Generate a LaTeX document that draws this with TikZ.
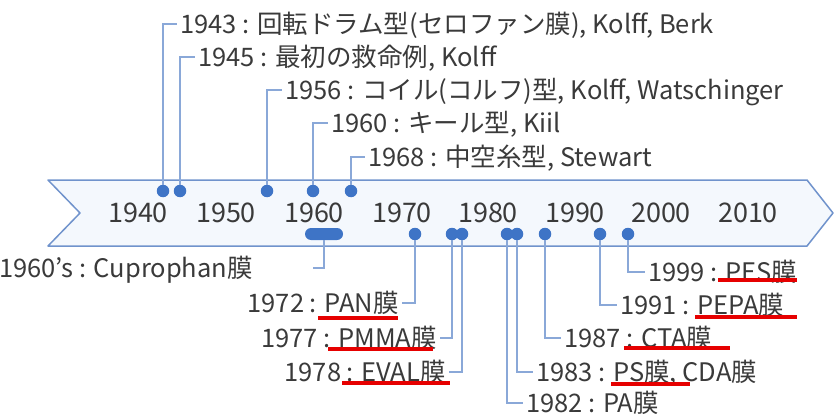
\documentclass[tikz,border=0pt]{standalone}
\usepackage{fontspec}
\setmainfont{Noto Sans CJK JP}
\definecolor{bandline}{HTML}{7093CC}
\definecolor{bandfill}{HTML}{F4F8FD}
\definecolor{dotblue}{HTML}{3E74C6}
\definecolor{conn}{HTML}{8AA8D8}
\definecolor{txt}{HTML}{3A3A3A}
\definecolor{mark}{HTML}{E60000}
\begin{document}
\begin{tikzpicture}[x=1pt,y=-1pt,
  dot/.style={circle,fill=dotblue,inner sep=0pt,minimum size=12.5pt},
  yr/.style={text=txt,font=\fontsize{27}{30}\selectfont,inner sep=0pt},
  lab/.style={text=txt,font=\fontsize{25.5}{28}\selectfont,inner sep=3pt,text height=18.5pt,text depth=0pt},
  cn/.style={draw=conn,line width=1.3pt},
  ul/.style={draw=mark,line width=3.6pt}]
\useasboundingbox (0,0) rectangle (834,414);
% banner
\filldraw[fill=bandfill,draw=bandline,line width=1.5pt,line join=round]
  (48,180) -- (807,180) -- (833,213) -- (807,246) -- (48,246) -- (80,213) -- cycle;
% decade labels
\foreach \x/\y in {138/1940,226/1950,314/1960,402/1970,488/1980,575/1990,661/2000,748/2010}
  \node[yr] (y\y) at (\x,213) {\y};
% top dots
\node[dot] (d43) at (163,191) {};
\node[dot] (d45) at (180,191) {};
\node[dot] (d56) at (267,191) {};
\node[dot] (d60) at (313,191) {};
\node[dot] (d68) at (351,191) {};
% top labels
\node[lab,anchor=west] (t43) at (177,24) {1943 : 回転ドラム型(セロファン膜), Kolff, Berk};
\node[lab,anchor=west] (t45) at (195,57) {1945 : 最初の救命例, Kolff};
\node[lab,anchor=west] (t56) at (282,90) {1956 : コイル(コルフ)型, Kolff, Watschinger};
\node[lab,anchor=west] (t60) at (328,123) {1960 : キール型, Kiil};
\node[lab,anchor=west] (t68) at (365,157) {1968 : 中空糸型, Stewart};
\draw[cn] (d43) |- (t43.west);
\draw[cn] (d45) |- (t45.west);
\draw[cn] (d56) |- (t56.west);
\draw[cn] (d60) |- (t60.west);
\draw[cn] (d68) |- (t68.west);
% bottom dots
\node[fill=dotblue,rounded corners=6pt,minimum width=38pt,minimum height=12pt,inner sep=0pt] (p60s) at (324,234) {};
\node[dot] (d72) at (415,234) {};
\node[dot] (d77) at (452,234) {};
\node[dot] (d78) at (462,234) {};
\node[dot] (d82) at (507,234) {};
\node[dot] (d83) at (517,234) {};
\node[dot] (d87) at (545,234) {};
\node[dot] (d91) at (600,234) {};
\node[dot] (d99) at (628,234) {};
% bottom labels
\coordinate (c60s) at (313,268);
\node[lab,anchor=east] (b60s) at (256,268) {1960’s : Cuprophan膜};
\node[lab,anchor=east] (b72) at (402,303) {1972 : PAN膜};
\node[lab,anchor=east] (b77) at (440,338) {1977 : PMMA膜};
\node[lab,anchor=east] (b78) at (449,372) {1978 : EVAL膜};
\node[lab,anchor=west] (b82) at (523,403) {1982 : PA膜};
\node[lab,anchor=west] (b83) at (533,372) {1983 : PS膜, CDA膜};
\node[lab,anchor=west] (b87) at (561,338) {1987 : CTA膜};
\node[lab,anchor=west] (b91) at (617,305) {1991 : PEPA膜};
\node[lab,anchor=west] (b99) at (645,272) {1999 : PES膜};
\draw[cn] (p60s) |- (c60s);
\draw[cn] (d72) |- (b72.east);
\draw[cn] (d77) |- (b77.east);
\draw[cn] (d78) |- (b78.east);
\draw[cn] (d82) |- (b82.west);
\draw[cn] (d83) |- (b83.west);
\draw[cn] (d87) |- (b87.west);
\draw[cn] (d91) |- (b91.west);
\draw[cn] (d99) |- (b99.west);
% red underlines
\draw[ul] (318,318) -- (398,318);
\draw[ul] (328,349) -- (433,349);
\draw[ul] (342,383) -- (450,383);
\draw[ul] (611,384) -- (690,384);
\draw[ul] (624,348) -- (730,348);
\draw[ul] (695,317) -- (797,317);
\draw[ul] (718,280) -- (797,280);
\end{tikzpicture}
\end{document}
